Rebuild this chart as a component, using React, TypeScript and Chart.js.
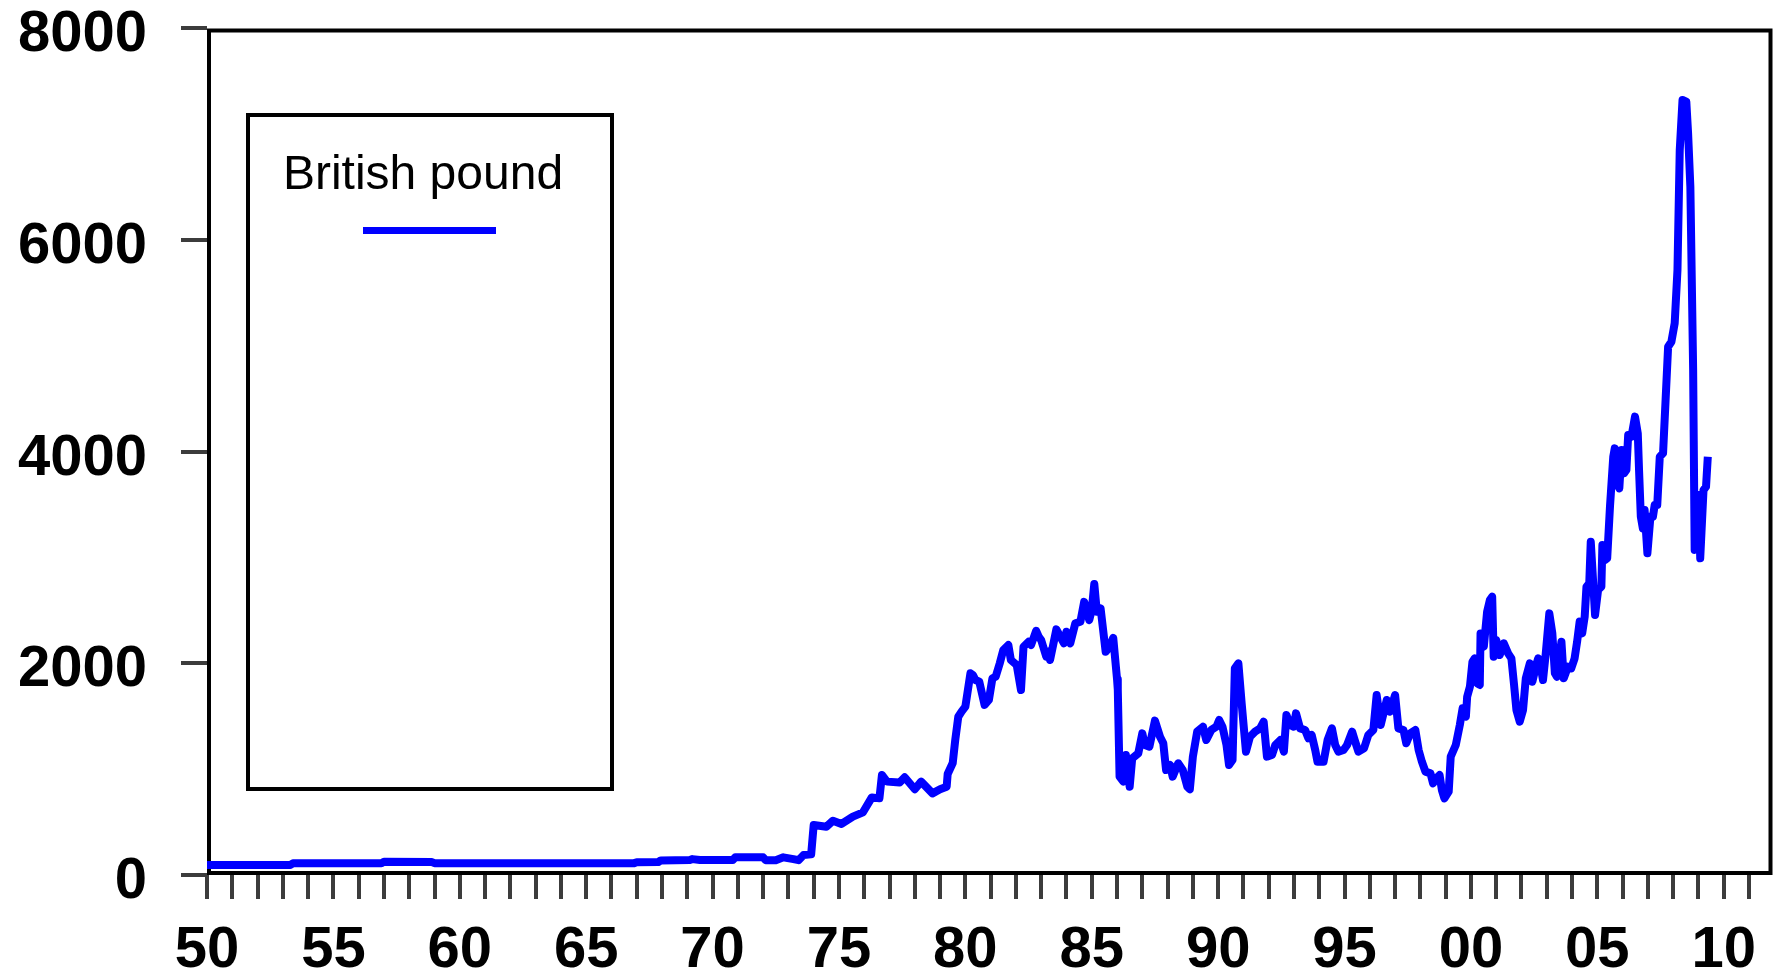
import React, { useEffect, useRef } from 'react';
import { Chart, registerables } from 'chart.js';

Chart.register(...registerables);

const seriesLabel = 'British pound';

const years = [
  1950.0, 1953.3, 1953.4, 1956.9, 1957.0, 1958.9, 1959.0, 1966.9, 1967.0, 1967.85,
  1967.95, 1969.1, 1969.2, 1969.5, 1970.8, 1970.9, 1972.0, 1972.1, 1972.5, 1972.8,
  1973.2, 1973.4, 1973.6, 1973.9, 1974.0, 1974.5, 1974.76, 1975.1, 1975.55, 1975.95,
  1976.3, 1976.6, 1976.7, 1976.9, 1977.4, 1977.6, 1978.0, 1978.25, 1978.7, 1979.0,
  1979.26, 1979.3, 1979.5, 1979.6, 1979.72, 1979.85, 1980.0, 1980.2, 1980.3, 1980.4,
  1980.55, 1980.76, 1980.93, 1981.07, 1981.2, 1981.36, 1981.5, 1981.7, 1981.8, 1982.03,
  1982.2, 1982.3, 1982.5, 1982.6, 1982.8, 1982.9, 1983.0, 1983.2, 1983.3, 1983.35,
  1983.6, 1983.9, 1984.0, 1984.15, 1984.35, 1984.55, 1984.7, 1984.9, 1985.0, 1985.1,
  1985.2, 1985.35, 1985.55, 1985.7, 1985.85, 1986.0, 1986.03, 1986.1, 1986.25, 1986.35,
  1986.5, 1986.6, 1986.84, 1987.0, 1987.1, 1987.28, 1987.5, 1987.7, 1987.83, 1987.94,
  1988.1, 1988.2, 1988.42, 1988.6, 1988.78, 1988.88, 1989.0, 1989.17, 1989.4, 1989.53,
  1989.73, 1989.93, 1990.04, 1990.17, 1990.33, 1990.43, 1990.57, 1990.66, 1990.8, 1990.93,
  1991.1, 1991.26, 1991.46, 1991.66, 1991.8, 1991.93, 1992.13, 1992.26, 1992.46, 1992.6,
  1992.7, 1992.85, 1992.98, 1993.08, 1993.24, 1993.44, 1993.57, 1993.7, 1993.84, 1993.93,
  1994.17, 1994.33, 1994.5, 1994.63, 1994.76, 1994.96, 1995.1, 1995.3, 1995.4, 1995.55,
  1995.77, 1995.94, 1996.14, 1996.27, 1996.43, 1996.67, 1996.8, 1997.0, 1997.13, 1997.33,
  1997.44, 1997.6, 1997.8, 1997.93, 1998.06, 1998.2, 1998.4, 1998.5, 1998.63, 1998.76,
  1998.85, 1998.95, 1999.12, 1999.2, 1999.4, 1999.56, 1999.67, 1999.8, 1999.85, 1999.96,
  2000.06, 2000.15, 2000.25, 2000.35, 2000.38, 2000.51, 2000.64, 2000.75, 2000.84, 2000.9,
  2001.0, 2001.14, 2001.3, 2001.47, 2001.6, 2001.7, 2001.8, 2001.93, 2002.06, 2002.17,
  2002.33, 2002.43, 2002.6, 2002.66, 2002.76, 2002.85, 2002.96, 2003.1, 2003.22, 2003.32,
  2003.4, 2003.58, 2003.67, 2003.84, 2003.97, 2004.1, 2004.2, 2004.3, 2004.4, 2004.5,
  2004.57, 2004.68, 2004.74, 2004.83, 2004.91, 2005.03, 2005.16, 2005.2, 2005.3, 2005.39,
  2005.5, 2005.63, 2005.69, 2005.78, 2005.87, 2005.96, 2006.06, 2006.15, 2006.22, 2006.35,
  2006.49, 2006.6, 2006.65, 2006.72, 2006.8, 2006.87, 2006.98, 2007.1, 2007.2, 2007.27,
  2007.37, 2007.47, 2007.6, 2007.7, 2007.8, 2007.93, 2008.06, 2008.17, 2008.26, 2008.37,
  2008.52, 2008.59, 2008.68, 2008.79, 2008.85, 2008.94, 2009.02, 2009.07, 2009.2, 2009.3,
  2009.37,
];

const values = [
  95, 95, 110, 112, 125, 122, 112, 112, 120, 122,
  138, 142, 150, 142, 142, 167, 167, 140, 140, 167,
  150, 140, 189, 195, 472, 456, 513, 482, 551, 592,
  733, 724, 944, 882, 873, 923, 810, 882, 771, 810,
  834, 954, 1058, 1275, 1495, 1543, 1590, 1905, 1889, 1842,
  1826, 1606, 1653, 1858, 1873, 1999, 2125, 2172, 2031, 1984,
  1747, 2156, 2203, 2172, 2307, 2251, 2219, 2062, 2109, 2031,
  2320, 2188, 2298, 2188, 2377, 2392, 2580, 2408, 2503, 2749,
  2487, 2518, 2109, 2156, 2240, 1850, 1750, 929, 882, 1133,
  834, 1102, 1149, 1338, 1228, 1212, 1458, 1306, 1244, 992,
  1039, 929, 1055, 992, 834, 809, 1118, 1354, 1401, 1275,
  1370, 1401, 1464, 1401, 1228, 1039, 1086, 1952, 1999, 1621,
  1165, 1306, 1354, 1385, 1448, 1118, 1133, 1228, 1275, 1165,
  1511, 1417, 1401, 1527, 1385, 1370, 1291, 1322, 1181, 1070,
  1070, 1275, 1385, 1228, 1165, 1181, 1228, 1354, 1275, 1165,
  1196, 1322, 1370, 1700, 1417, 1653, 1543, 1700, 1385, 1370,
  1244, 1338, 1370, 1181, 1070, 976, 960, 866, 913, 944,
  803, 724, 787, 1118, 1228, 1417, 1574, 1495, 1684, 1779,
  2015, 2046, 1810, 1795, 2282, 2156, 2487, 2597, 2629, 2062,
  2220, 2078, 2188, 2094, 2046, 1810, 1558, 1448, 1558, 1858,
  1999, 1826, 1999, 2046, 1968, 1842, 2094, 2471, 2282, 1905,
  1873, 2204, 1858, 1968, 1952, 2046, 2204, 2393, 2282, 2440,
  2723, 2755, 3148, 2786, 2456, 2692, 2723, 3117, 2975, 2991,
  3479, 3951, 4030, 3700, 3652, 4014, 3794, 3825, 4156, 4140,
  4329, 4171, 3825, 3385, 3274, 3447, 3038, 3385, 3385, 3495,
  3495, 3951, 3983, 4486, 4990, 5037, 5211, 5714, 6848, 7320,
  7304, 7005, 6501, 4770, 3070, 3132, 3589, 2991, 3636, 3668,
  3951,
];

const yTickValues = [0, 2000, 4000, 6000, 8000];
const xLabelYears = [1950, 1955, 1960, 1965, 1970, 1975, 1980, 1985, 1990, 1995, 2000, 2005, 2010];
const xTickLabels = ['50', '55', '60', '65', '70', '75', '80', '85', '90', '95', '00', '05', '10'];
const xFirstTickYear = 1950;
const xLastTickYear = 2011;

const FONT = '"Liberation Sans", Arial, Helvetica, sans-serif';

export default function App() {
  const ref = useRef<HTMLCanvasElement>(null);

  useEffect(() => {
    const canvas = ref.current;
    if (!canvas) return;

    const framePlugin = {
      id: 'frameAndLegend',
      beforeDatasetsDraw(chart: any) {
        const { ctx, chartArea } = chart;
        ctx.save();
        ctx.strokeStyle = '#000';
        ctx.lineWidth = 4;
        ctx.strokeRect(chartArea.left + 2, chartArea.top + 2.5, chartArea.right - chartArea.left - 2.5, chartArea.bottom - chartArea.top - 4.5);
        ctx.restore();
      },
      afterDraw(chart: any) {
        const { ctx } = chart;
        ctx.save();
        ctx.fillStyle = '#fff';
        ctx.fillRect(248, 115, 364, 674);
        ctx.strokeStyle = '#000';
        ctx.lineWidth = 4;
        ctx.strokeRect(248, 115, 364, 674);
        ctx.fillStyle = '#000';
        ctx.font = '48px ' + FONT;
        ctx.textAlign = 'center';
        ctx.textBaseline = 'alphabetic';
        ctx.fillText(seriesLabel, 423, 189);
        ctx.strokeStyle = '#0000ff';
        ctx.lineWidth = 7;
        ctx.beginPath();
        ctx.moveTo(363, 230.5);
        ctx.lineTo(496, 230.5);
        ctx.stroke();
        ctx.restore();
      },
    };

    const chart = new Chart(canvas, {
      type: 'line',
      data: {
        datasets: [
          {
            label: seriesLabel,
            data: years.map((x, i) => ({ x, y: values[i] })),
            borderColor: '#0000ff',
            backgroundColor: '#0000ff',
            borderWidth: 8,
            pointRadius: 0,
            tension: 0,
            fill: false,
            borderJoinStyle: 'round',
            borderCapStyle: 'butt',
          },
        ],
      },
      options: {
        responsive: false,
        animation: false,
        layout: { padding: { top: 28, right: 2, left: 0, bottom: 0 } },
        plugins: { legend: { display: false }, tooltip: { enabled: false } },
        scales: {
          x: {
            type: 'linear',
            min: 1950,
            max: 2011.87,
            afterBuildTicks: (s: any) => {
              const t: any[] = [];
              for (let y = xFirstTickYear; y <= xLastTickYear; y++) t.push({ value: y });
              s.ticks = t;
            },
            afterFit: (s: any) => {
              s.height = 102;
              s.paddingLeft = 0;
              s.paddingRight = 0;
            },
            border: { display: false },
            grid: {
              display: true,
              drawOnChartArea: false,
              drawTicks: true,
              tickLength: 24,
              color: '#3c3c3c',
              lineWidth: 4,
              tickColor: '#3c3c3c',
              tickWidth: 4,
            },
            ticks: {
              autoSkip: false,
              maxRotation: 0,
              minRotation: 0,
              padding: 17,
              color: '#000',
              font: { family: FONT, size: 58, weight: 'bold' },
              callback: (v: any) => {
                const i = xLabelYears.indexOf(Number(v));
                return i >= 0 ? xTickLabels[i] : '';
              },
            },
          },
          y: {
            type: 'linear',
            min: 0,
            max: 8000,
            afterBuildTicks: (s: any) => {
              s.ticks = yTickValues.map((v) => ({ value: v }));
            },
            afterFit: (s: any) => {
              s.width = 207;
              s.paddingTop = 0;
              s.paddingBottom = 0;
            },
            border: { display: false },
            grid: {
              display: true,
              drawOnChartArea: false,
              drawTicks: true,
              tickLength: 26,
              color: '#3c3c3c',
              lineWidth: 4,
              tickColor: '#3c3c3c',
              tickWidth: 4,
            },
            ticks: {
              padding: 34,
              labelOffset: 7,
              color: '#000',
              font: { family: FONT, size: 58, weight: 'bold' },
              callback: (v: any) => String(v),
            },
          },
        },
      },
      plugins: [framePlugin],
    } as any);

    return () => chart.destroy();
  }, []);

  return (
    <div style={{ position: 'absolute', left: 0, top: 0, width: 1773, height: 977, background: '#fff' }}>
      <canvas ref={ref} width={1773} height={977} style={{ display: 'block', width: 1773, height: 977 }} />
    </div>
  );
}
